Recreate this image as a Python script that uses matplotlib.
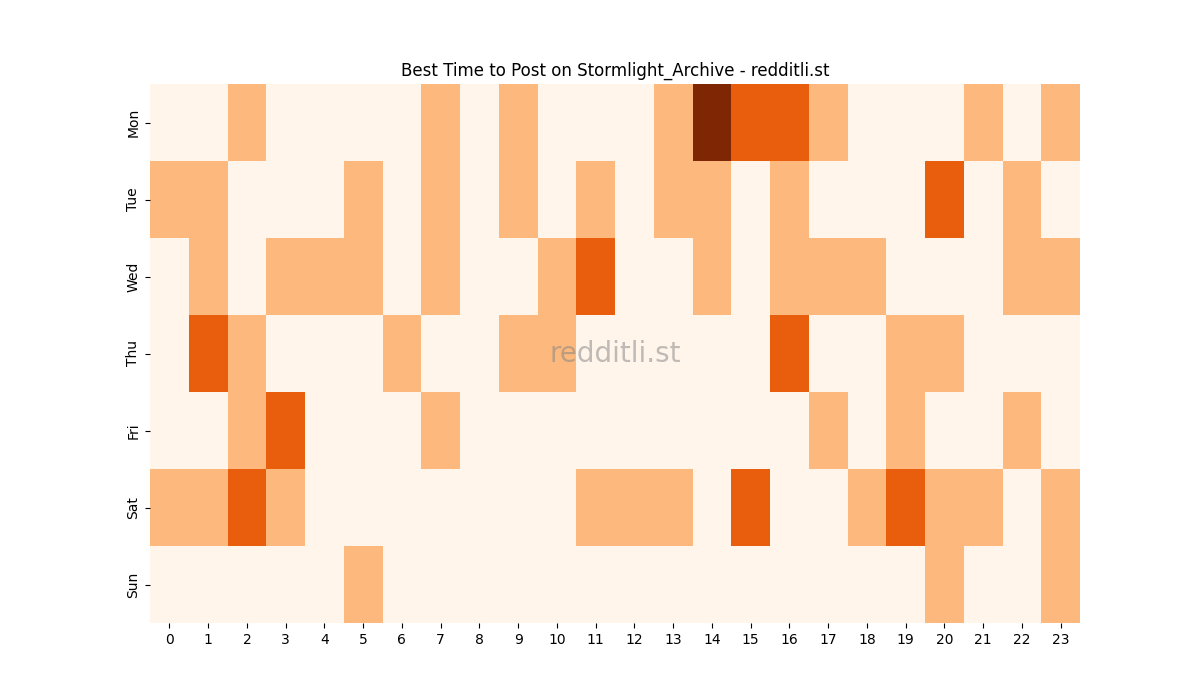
import matplotlib
matplotlib.use("Agg")
import matplotlib.pyplot as plt
import numpy as np

days = ["Mon", "Tue", "Wed", "Thu", "Fri", "Sat", "Sun"]
hours = list(range(24))
mon = {2:1, 7:1, 9:1, 13:1, 14:3, 15:2, 16:2, 17:1, 21:1, 23:1}
tue = {0:1, 1:1, 5:1, 7:1, 9:1, 11:1, 13:1, 14:1, 16:1, 20:2, 22:1}
wed = {1:1, 3:1, 4:1, 5:1, 7:1, 10:1, 11:2, 14:1, 16:1, 17:1, 18:1, 22:1, 23:1}
thu = {1:2, 2:1, 6:1, 9:1, 10:1, 16:2, 19:1, 20:1}
fri = {2:1, 3:2, 7:1, 17:1, 19:1, 22:1}
sat = {0:1, 1:1, 2:2, 3:1, 11:1, 12:1, 13:1, 15:2, 18:1, 19:2, 20:1, 21:1, 23:1}
sun = {5:1, 20:1, 23:1}
rows = [mon, tue, wed, thu, fri, sat, sun]
data = np.array([[r.get(h, 0) for h in hours] for r in rows], dtype=float)

fig = plt.figure(figsize=(12, 7), dpi=100)
ax = fig.add_subplot(111)
ax.pcolormesh(np.arange(25), np.arange(8), data, cmap="Oranges", vmin=0, vmax=3)
ax.set_xlim(0, 24)
ax.set_ylim(7, 0)
ax.set_xticks(np.arange(24) + 0.5)
ax.set_xticklabels([str(h) for h in hours])
ax.set_yticks(np.arange(7) + 0.5)
ax.set_yticklabels(days, rotation=90, va="center")
for s in ax.spines.values():
    s.set_visible(False)
ax.set_title("Best Time to Post on Stormlight_Archive - redditli.st")
ax.text(0.5, 0.5, "redditli.st", transform=ax.transAxes, ha="center", va="center",
        fontsize=20, color="gray", alpha=0.5)
fig.savefig("out.png")
